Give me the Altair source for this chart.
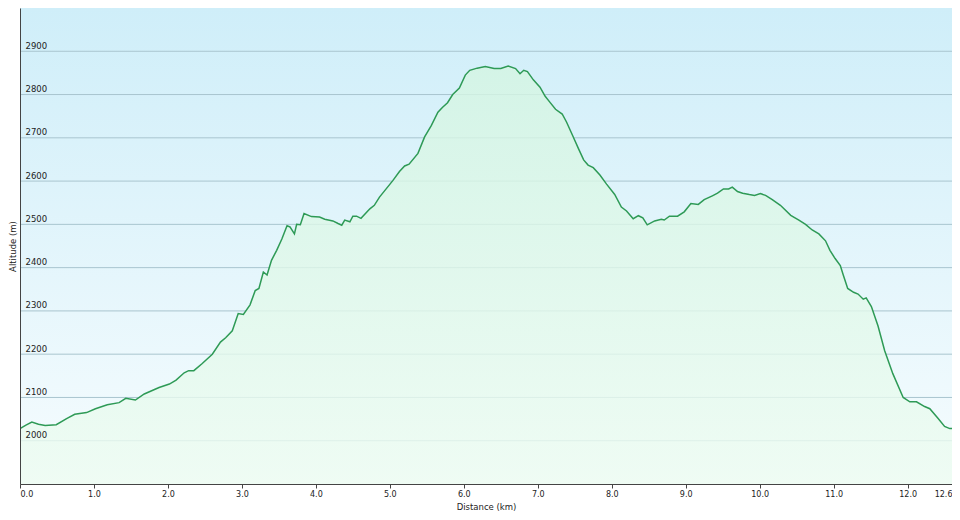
import altair as alt
import pandas as pd

distance_km = [0.00, 0.08, 0.16, 0.25, 0.34, 0.49, 0.63, 0.74, 0.90, 1.02, 1.18, 1.34, 1.43, 1.56, 1.68,
               1.88, 2.02, 2.11, 2.22, 2.28, 2.35, 2.46, 2.60, 2.71, 2.78, 2.87, 2.95, 3.02, 3.11, 3.18,
               3.23, 3.29, 3.34, 3.40, 3.47, 3.54, 3.61, 3.65, 3.71, 3.74, 3.79, 3.84, 3.94, 4.05, 4.12,
               4.23, 4.30, 4.35, 4.39, 4.46, 4.50, 4.55, 4.61, 4.73, 4.79, 4.86, 4.95, 5.04, 5.13, 5.20,
               5.26, 5.38, 5.47, 5.56, 5.65, 5.71, 5.78, 5.85, 5.94, 6.02, 6.08, 6.18, 6.29, 6.41, 6.50,
               6.60, 6.70, 6.76, 6.81, 6.86, 6.94, 7.03, 7.10, 7.16, 7.24, 7.33, 7.39, 7.48, 7.55, 7.62,
               7.68, 7.75, 7.84, 7.93, 8.04, 8.13, 8.20, 8.29, 8.36, 8.42, 8.48, 8.58, 8.67, 8.71, 8.78,
               8.89, 8.98, 9.07, 9.17, 9.25, 9.36, 9.43, 9.51, 9.58, 9.63, 9.70, 9.77, 9.86, 9.93, 10.01,
               10.08, 10.17, 10.28, 10.42, 10.53, 10.62, 10.71, 10.80, 10.89, 10.95, 11.02, 11.09, 11.13,
               11.19, 11.27, 11.33, 11.40, 11.44, 11.51, 11.60, 11.69, 11.80, 11.94, 12.03, 12.12, 12.23,
               12.30, 12.41, 12.50, 12.57, 12.60]
altitude_m = [2028, 2036, 2043, 2038, 2035, 2037, 2051, 2061, 2065, 2074, 2083, 2088, 2098, 2094, 2108,
              2123, 2131, 2140, 2157, 2162, 2162, 2178, 2200, 2228, 2238, 2254, 2294, 2292, 2314, 2347,
              2352, 2390, 2383, 2417, 2440, 2466, 2497, 2494, 2478, 2500, 2499, 2525, 2518, 2517, 2512,
              2508, 2502, 2498, 2510, 2506, 2519, 2519, 2514, 2536, 2544, 2563, 2582, 2601, 2622, 2635,
              2639, 2664, 2702, 2728, 2759, 2770, 2781, 2800, 2815, 2845, 2856, 2861, 2865, 2860, 2860,
              2866, 2860, 2848, 2856, 2853, 2834, 2817, 2796, 2783, 2766, 2755, 2736, 2702, 2675, 2649,
              2637, 2631, 2614, 2593, 2569, 2540, 2531, 2513, 2520, 2515, 2499, 2508, 2512, 2510, 2519,
              2519, 2529, 2548, 2546, 2557, 2566, 2572, 2582, 2582, 2586, 2576, 2572, 2569, 2567, 2571,
              2567, 2557, 2544, 2521, 2510, 2500, 2487, 2478, 2462, 2440, 2421, 2405, 2383,
              2352, 2343, 2339, 2327, 2330, 2310, 2265, 2208, 2155, 2100, 2090, 2090, 2079,
              2074, 2052, 2033, 2028, 2028]

x_ticks = [0, 1, 2, 3, 4, 5, 6, 7, 8, 9, 10, 11, 12, 12.6]
y_ticks = [2000, 2100, 2200, 2300, 2400, 2500, 2600, 2700, 2800, 2900]
x_domain = [0, 12.6]
y_domain = [1900, 3000]

df = pd.DataFrame({"d": distance_km, "alt": altitude_m})
grid_df = pd.DataFrame({"g": y_ticks})

W, H = 932, 476
FONT = "DejaVu Sans"

x_scale = alt.Scale(domain=x_domain, nice=False, zero=False)
y_scale = alt.Scale(domain=y_domain, nice=False, zero=False)

x_axis = alt.Axis(values=x_ticks, format=".1f", grid=False, labelFlush=True, zindex=1,
                  tickSize=4, tickColor="#444444", domainColor="#444444",
                  labelFont=FONT, labelFontSize=8, labelColor="#222222", labelPadding=2,
                  title="Distance  (km)", titleFont=FONT, titleFontSize=8.5,
                  titleFontWeight="normal", titleColor="#222222", titleY=22,
                  titleBaseline="middle")
y_axis = alt.Axis(values=y_ticks, format="d", grid=False, ticks=False, tickSize=0, zindex=1,
                  domainColor="#444444", labelAlign="left", labelPadding=-5,
                  labelBaseline="alphabetic", labelOffset=-3,
                  labelFont=FONT, labelFontSize=8.5, labelColor="#222222",
                  title="Altitude (m)", titleFont=FONT, titleFontSize=8.5,
                  titleFontWeight="normal", titleColor="#222222", titleAngle=-90,
                  titleX=-8, titleY=H / 2, titleBaseline="middle", titleAlign="center")

bg = alt.Chart(pd.DataFrame({"a": [0]})).mark_rect(
    fill=alt.Gradient(gradient="linear", x1=0, y1=0, x2=0, y2=1,
                      stops=[alt.GradientStop(color="#cfeef9", offset=0),
                             alt.GradientStop(color="#f6fcfe", offset=1)]),
).encode(
    x=alt.datum(x_domain[0], scale=x_scale, axis=x_axis),
    x2=alt.datum(x_domain[1]),
    y=alt.datum(y_domain[0], scale=y_scale, axis=y_axis),
    y2=alt.datum(y_domain[1]),
)

grid = alt.Chart(grid_df).mark_rule(color="#a9c5cf", strokeWidth=1).encode(
    y=alt.Y("g:Q", scale=y_scale),
)

area = alt.Chart(df).mark_area(
    clip=True,
    fill=alt.Gradient(gradient="linear", x1=0, y1=0, x2=0, y2=1,
                      stops=[alt.GradientStop(color="#d4f5e2", offset=0),
                             alt.GradientStop(color="#edfcf1", offset=1)]),
    opacity=0.8,
).encode(
    x=alt.X("d:Q", scale=x_scale),
    y=alt.Y("alt:Q", scale=y_scale),
    y2=alt.datum(y_domain[0]),
)

line = alt.Chart(df).mark_line(clip=True, color="#2e9a56", strokeWidth=1.5).encode(
    x=alt.X("d:Q", scale=x_scale),
    y=alt.Y("alt:Q", scale=y_scale),
)

chart = alt.layer(bg, grid, area, line).properties(
    width=W, height=H,
    autosize=alt.AutoSizeParams(type="none"),
    padding={"left": 12, "top": 0, "right": 0, "bottom": 28},
).configure_view(stroke="#bdbdbd", strokeWidth=1)

chart.save("out.html", embed_options={"renderer": "svg", "actions": False})
